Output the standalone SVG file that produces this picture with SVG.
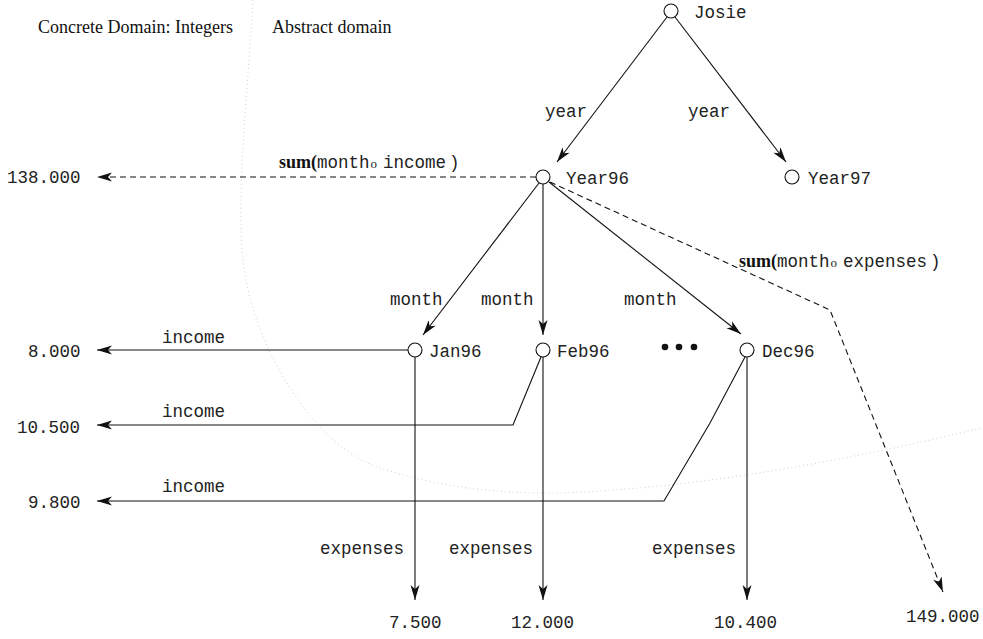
<svg xmlns="http://www.w3.org/2000/svg" width="983" height="639" viewBox="0 0 983 639">
<style>
.m{font-family:"Liberation Mono","Courier New",monospace;font-size:17.5px;fill:#222}
.s{font-family:"Liberation Serif","Times New Roman",serif;font-size:18px;fill:#111}
.b{font-family:"Liberation Serif","Times New Roman",serif;font-weight:bold;font-size:18px;fill:#111}
.o{font-family:"Liberation Serif","Times New Roman",serif;font-size:13px}
.n{fill:#fff;stroke:#111;stroke-width:1.1}
.c{fill:none;stroke:#111;stroke-width:1.1}
.d{fill:none;stroke:#111;stroke-width:1.1;stroke-dasharray:6 4}
.a{marker-end:url(#ah)}
</style>
<defs>
<marker id="ah" viewBox="-16 -5 17 10" refX="0" refY="0" markerWidth="17" markerHeight="10" markerUnits="userSpaceOnUse" orient="auto">
<path d="M0,0 L-15,-4.5 L-11,0 L-15,4.5 Z" fill="#111"/>
</marker>
</defs>
<rect width="983" height="639" fill="#fff"/>
<g id="boundary">
<path d="M253,0 C248,90 236,190 243,260 C251,340 310,445 380,468 C440,487.5 500,494 560,493 C700,488 850,460 990,426" fill="none" stroke="#cfcfcf" stroke-width="1" stroke-dasharray="1 3"/>
<text class="s" x="38" y="33">Concrete Domain: Integers</text>
<text class="s" x="272" y="33">Abstract domain</text>
</g>
<g id="connectors">
<line class="c a" x1="667" y1="17" x2="557" y2="162"/>
<line class="c a" x1="675" y1="17" x2="786" y2="162"/>
<line class="d a" x1="536" y1="177" x2="97" y2="177"/>
<line class="c a" x1="539" y1="183" x2="423" y2="335"/>
<line class="c a" x1="543" y1="184" x2="543" y2="335"/>
<line class="c a" x1="549" y1="182" x2="741" y2="334"/>
<polyline class="d a" points="550,182 830,310 943,592"/>
<line class="c a" x1="408" y1="350" x2="97" y2="350"/>
<polyline class="c a" points="541,357 513,425 97,425"/>
<polyline class="c a" points="745,357 710,423 664,501 97,501"/>
<line class="c a" x1="415" y1="357" x2="415" y2="600"/>
<line class="c a" x1="543" y1="357" x2="543" y2="600"/>
<line class="c a" x1="747" y1="357" x2="747" y2="600"/>
<text class="m" x="545" y="117">year</text>
<text class="m" x="688" y="117">year</text>
<text class="m" x="279" y="168"><tspan class="b">sum(</tspan>month<tspan class="o" dx="1">o</tspan><tspan dx="6">income</tspan><tspan dx="3">)</tspan></text>
<text class="m" x="739" y="267"><tspan class="b">sum(</tspan>month<tspan class="o" dx="1">o</tspan><tspan dx="6">expenses</tspan><tspan dx="3">)</tspan></text>
<text class="m" x="390" y="305">month</text>
<text class="m" x="481" y="305">month</text>
<text class="m" x="624" y="305">month</text>
<text class="m" x="162" y="343">income</text>
<text class="m" x="162" y="417">income</text>
<text class="m" x="162" y="492">income</text>
<text class="m" x="320" y="554">expenses</text>
<text class="m" x="449" y="554">expenses</text>
<text class="m" x="652" y="554">expenses</text>
</g>
<g id="Josie"><circle class="n" cx="671" cy="11" r="7"/><text class="m" x="694" y="18">Josie</text></g>
<g id="Year96"><circle class="n" cx="543" cy="177" r="7"/><text class="m" x="566" y="184">Year96</text></g>
<g id="Year97"><circle class="n" cx="792" cy="177" r="7"/><text class="m" x="808" y="184">Year97</text></g>
<g id="Jan96"><circle class="n" cx="415" cy="350" r="7"/><text class="m" x="429" y="357">Jan96</text></g>
<g id="Feb96"><circle class="n" cx="543" cy="350" r="7"/><text class="m" x="557" y="357">Feb96</text></g>
<g id="Dec96"><circle class="n" cx="747" cy="350" r="7"/><text class="m" x="762" y="357">Dec96</text></g>
<g id="ellipsis" fill="#111"><circle cx="665" cy="347" r="3.3"/><circle cx="679" cy="347" r="3.3"/><circle cx="694" cy="347" r="3.3"/></g>
<g id="v138"><text class="m" x="7" y="183">138.000</text></g>
<g id="v8000"><text class="m" x="28" y="357">8.000</text></g>
<g id="v10500"><text class="m" x="17" y="433">10.500</text></g>
<g id="v9800"><text class="m" x="28" y="508">9.800</text></g>
<g id="v7500"><text class="m" x="389" y="628">7.500</text></g>
<g id="v12000"><text class="m" x="511" y="628">12.000</text></g>
<g id="v10400"><text class="m" x="714" y="628">10.400</text></g>
<g id="v149000"><text class="m" x="906" y="622">149.000</text></g>
</svg>
